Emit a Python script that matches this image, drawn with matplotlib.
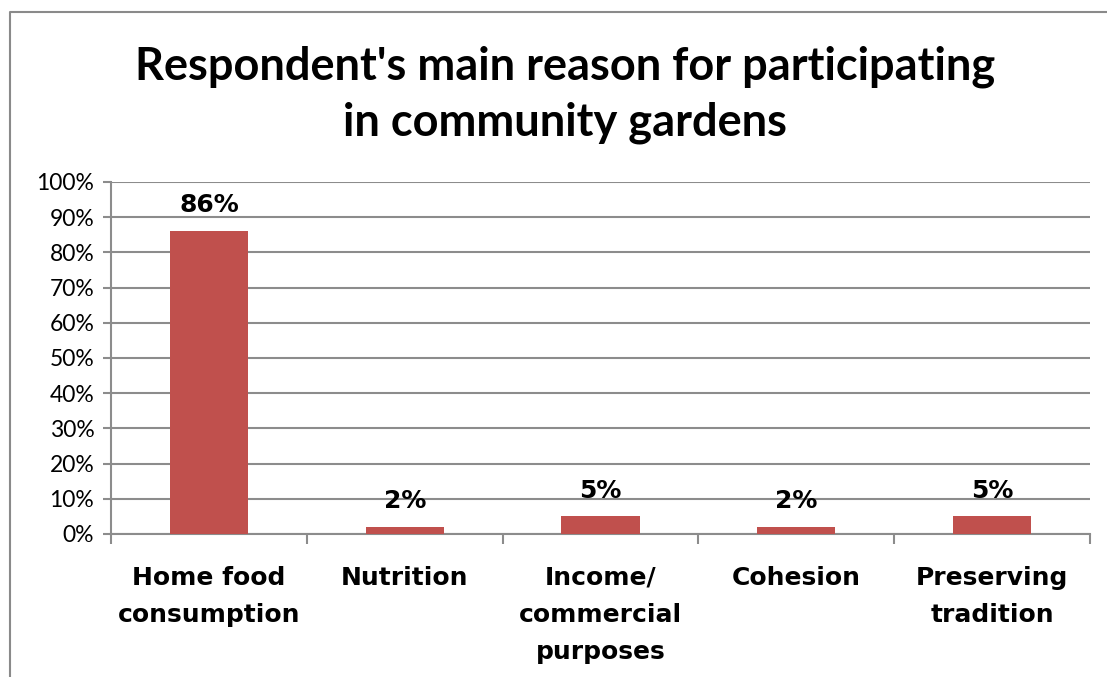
import matplotlib
matplotlib.use("Agg")
import matplotlib.pyplot as plt
from matplotlib.lines import Line2D
from matplotlib.ticker import FixedLocator, PercentFormatter

reasons = ["Home food\nconsumption", "Nutrition", "Income/\ncommercial\npurposes",
           "Cohesion", "Preserving\ntradition"]
shares = [86, 2, 5, 2, 5]
y_ticks = list(range(0, 101, 10))

BAR = "#C0504D"
GRID = "#8C8C8C"
W, H = 1107, 677

fig = plt.figure(figsize=(W / 100, H / 100), dpi=100)
ax = fig.add_axes([111 / W, 1 - 534 / H, (1090 - 111) / W, (534 - 182) / H])

pos = list(range(len(reasons)))
bars = ax.bar(pos, shares, width=0.4, color=BAR, zorder=3)

ax.set_xlim(-0.5, len(reasons) - 0.5)
ax.set_ylim(0, 100)
ax.set_yticks(y_ticks)
ax.yaxis.set_major_formatter(PercentFormatter(decimals=0))
ax.grid(axis="y", color=GRID, linewidth=1.5, zorder=0)

for side in ("top", "right"):
    ax.spines[side].set_visible(False)
for side in ("left", "bottom"):
    ax.spines[side].set_color(GRID)
    ax.spines[side].set_linewidth(1.5)

ax.tick_params(axis="y", length=6, width=1.5, color=GRID, pad=6,
               labelsize=16.5, labelfontfamily="Lato")
ax.set_xticks(pos)
ax.set_xticklabels(reasons, fontsize=18, fontweight="heavy",
                   family="DejaVu Sans", linespacing=1.68, ha="center",
                   multialignment="center", va="top")
ax.tick_params(axis="x", which="major", length=0, pad=23)
ax.xaxis.set_minor_locator(FixedLocator([p - 0.5 for p in pos] + [pos[-1] + 0.5]))
ax.tick_params(axis="x", which="minor", length=7, width=1.5, color=GRID)

for rect, v in zip(bars, shares):
    ax.annotate(f"{v}%", (rect.get_x() + rect.get_width() / 2, v),
                xytext=(0, 10), textcoords="offset points", ha="center",
                va="bottom", fontsize=18, fontweight="bold", family="DejaVu Sans")

fig.text(565 / W, 1 - 79 / H, "Respondent's main reason for participating",
         ha="center", va="baseline", fontsize=32.5, fontweight="bold", family="Lato")
fig.text(565 / W, 1 - 136 / H, "in community gardens",
         ha="center", va="baseline", fontsize=32.5, fontweight="bold", family="Lato")

# chart frame, open at right and bottom
fig.add_artist(Line2D([10 / W, 10 / W, 1.0], [0.0, 1 - 12 / H, 1 - 12 / H],
                      transform=fig.transFigure, color="#8A8A8A", linewidth=1.5))

fig.savefig("out.png", dpi=100)
